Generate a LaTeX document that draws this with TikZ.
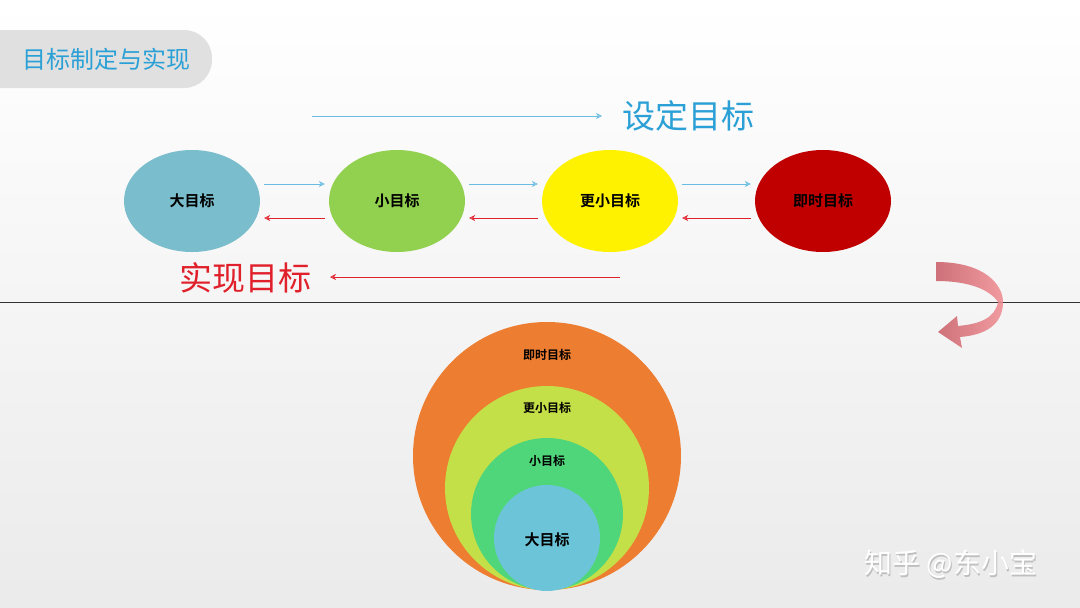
\documentclass[tikz,border=0pt]{standalone}
\usepackage{fontspec}
\setmainfont{Noto Sans CJK SC}
\newfontfamily\cjkb{Noto Sans CJK SC Bold}
\usetikzlibrary{arrows.meta,shapes.geometric}
\definecolor{tblue}{HTML}{2AA0D6}
\definecolor{tred}{HTML}{E0202A}
\definecolor{eblue}{RGB}{122,190,205}
\definecolor{egreen}{RGB}{146,208,80}
\definecolor{ered}{RGB}{192,0,0}
\definecolor{corange}{RGB}{237,125,49}
\definecolor{clime}{RGB}{196,224,72}
\definecolor{cgreen}{RGB}{80,214,122}
\definecolor{cblue}{RGB}{108,196,216}
\definecolor{ardark}{RGB}{200,90,100}
\definecolor{arlight}{RGB}{240,140,145}
\tikzset{
  oval/.style={ellipse, draw=none, minimum width=136pt, minimum height=102pt, font=\cjkb\fontsize{15}{15}\selectfont},
  bluearr/.style={draw=tblue!70, line width=0.8pt, -{Stealth[length=6pt,width=6pt,open]}},
  redarr/.style={draw=tred, line width=0.8pt, -{Stealth[length=6pt,width=6pt,open]}},
  gap/.style={shorten <=4pt, shorten >=4pt},
  clab/.style={font=\cjkb\fontsize{12}{12}\selectfont},
}
\begin{document}
\begin{tikzpicture}[x=1pt,y=-1pt]
\shade[top color=white,bottom color=black!8] (0,0) rectangle (1080,608);
\useasboundingbox (0,0) rectangle (1080,608);
% tab
\fill[black!12,rounded corners=28pt] (-30,30) rectangle (212,88);
\node[text=tblue,font=\fontsize{24}{24}\selectfont] (tab) at (107,59) {目标制定与实现};
% top row
\coordinate (sa) at (312,116); \coordinate (sb) at (602,116);
\draw[bluearr] (sa) -- (sb);
\node[text=tblue,font=\fontsize{33}{33}\selectfont] (set) at (688,116) {设定目标};
\node[oval,fill=eblue] (e1) at (192,201) {大目标};
\node[oval,fill=egreen] (e2) at (397,201) {小目标};
\node[oval,fill=yellow] (e3) at (610,201) {更小目标};
\node[oval,fill=ered] (e4) at (823,201) {即时目标};
\foreach \a/\b in {e1/e2,e2/e3,e3/e4}{
  \draw[bluearr,gap] ([yshift=17pt]\a.east) -- ([yshift=17pt]\b.west);
  \draw[redarr,gap] ([yshift=-17pt]\b.west) -- ([yshift=-17pt]\a.east);
}
\coordinate (ra) at (620,277); \coordinate (rb) at (330,277);
\draw[redarr] (ra) -- (rb);
\node[text=tred,font=\fontsize{33}{33}\selectfont] (real) at (245,278) {实现目标};
% divider
\draw[black!80,line width=0.8pt] (0,302) -- (1080,302);
% curved arrow
\shade[left color=ardark,right color=arlight,opacity=0.85]
  (936,262) .. controls (985,262) and (1003,285) .. (1003,302)
  .. controls (1003,325) and (985,335) .. (960,337)
  -- (962,348) -- (938,332) -- (957,316) -- (958,326)
  .. controls (980,324) and (995,318) .. (998,302)
  .. controls (990,290) and (970,281) .. (936,281) -- cycle;
% circles
\fill[corange] (547,456) circle (134);
\fill[clime] (547,488) circle (102);
\fill[cgreen] (547,514) circle (76);
\fill[cblue] (547,538) circle (53);
\node[clab] (c4) at (547,355) {即时目标};
\node[clab] (c3) at (547,408) {更小目标};
\node[clab] (c2) at (547,461) {小目标};
\node[clab,font=\cjkb\fontsize{15}{15}\selectfont] (c1) at (547,540) {大目标};
% watermark
\node[text=black!25,font=\fontsize{28}{28}\selectfont] at (952,566) {知乎 @东小宝};
\node[text=white,font=\fontsize{28}{28}\selectfont] (wm) at (951,564) {知乎 @东小宝};
\end{tikzpicture}
\end{document}
